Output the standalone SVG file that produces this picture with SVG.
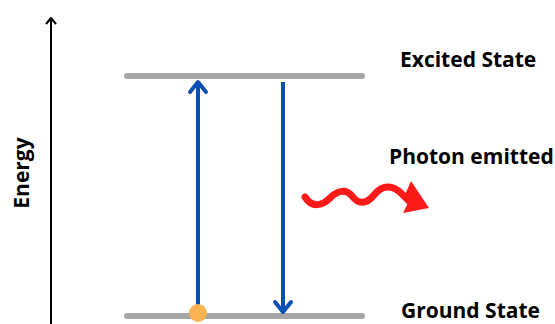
<svg xmlns="http://www.w3.org/2000/svg" width="555" height="324" viewBox="0 0 555 324">
<style>
.lbl{font-family:"Open Sans","Noto Sans","Liberation Sans",sans-serif;font-weight:bold;font-size:21px;fill:#000}
.level{stroke:#a6a6a6;stroke-width:6;stroke-linecap:round;fill:none}
.trans{stroke:#0b4fb4;stroke-width:4;fill:none}
.head{stroke:#0b4fb4;stroke-width:4;fill:none;stroke-linecap:round;stroke-linejoin:round}
</style>
<rect width="555" height="324" fill="#fff"/>
<g id="axis">
<line x1="51" y1="18" x2="51" y2="324" stroke="#000" stroke-width="2"/>
<polyline points="46,24 51,18 56,24" fill="none" stroke="#000" stroke-width="2" stroke-linejoin="round"/>
<text class="lbl" transform="translate(29,173) rotate(-90)" text-anchor="middle">Energy</text>
</g>
<g id="excited">
<line class="level" x1="127" y1="76" x2="362" y2="76"/>
<text class="lbl" x="400" y="67">Excited State</text>
</g>
<g id="ground">
<line class="level" x1="127" y1="316" x2="362" y2="316"/>
<text class="lbl" x="401" y="318">Ground State</text>
</g>
<g id="connectors">
<line class="trans" x1="198" y1="312" x2="198" y2="82"/>
<polyline class="head" points="190,92 198,82 206,92"/>
<line class="trans" x1="283" y1="82" x2="283" y2="312"/>
<polyline class="head" points="275,302 283,312 291,302"/>
</g>
<g id="electron">
<circle cx="198" cy="313" r="9" fill="#fbb454"/>
</g>
<g id="photon">
<path d="M305,197 C312,208 322,206 330,198 C338,190 346,189 352,196 C358,204 366,205 374,195 C382,185 392,184 402,194 L410,202" fill="none" stroke="#ff1a1a" stroke-width="7" stroke-linecap="round"/>
<polygon points="411,181 429,208 403,213 408,203 404,197" fill="#ff1a1a"/>
<text class="lbl" x="389" y="164">Photon emitted</text>
</g>
</svg>
